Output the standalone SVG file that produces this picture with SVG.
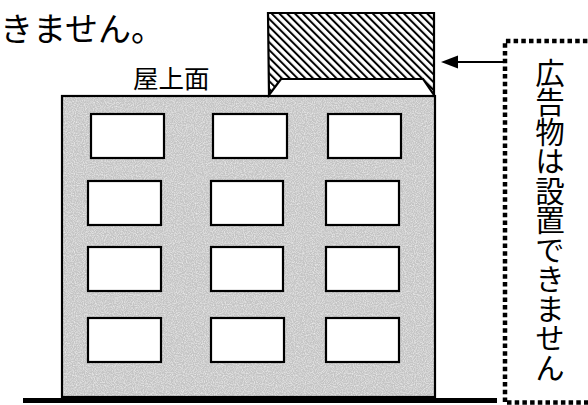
<svg xmlns="http://www.w3.org/2000/svg" width="588" height="405" viewBox="0 0 588 405">
  <defs>
    <pattern id="hatch" patternUnits="userSpaceOnUse" width="5.5" height="5.5" patternTransform="rotate(-45)">
      <rect width="5.5" height="5.5" fill="#ffffff"/>
      <rect x="0" y="0" width="2" height="5.5" fill="#000000"/>
    </pattern>
    <filter id="grain" x="0" y="0" width="100%" height="100%">
      <feTurbulence type="fractalNoise" baseFrequency="0.9" numOctaves="2" seed="3" result="n"/>
      <feColorMatrix in="n" type="matrix" values="0 0 0 0 1  0 0 0 0 1  0 0 0 0 1  0 0 0 1.2 -0.45" result="w"/>
      <feComposite in="w" in2="SourceGraphic" operator="in" result="wm"/>
      <feMerge><feMergeNode in="SourceGraphic"/><feMergeNode in="wm"/></feMerge>
    </filter>
  </defs>
  <style>
    .jp { font-family: "Noto Sans CJK JP", "Noto Sans", sans-serif; fill: #000; }
    .win { fill: #ffffff; stroke: #000; stroke-width: 2.2; }
    .dotted { fill: none; stroke: #000; stroke-width: 4.5; stroke-dasharray: 4.5 3.2; }
  </style>

  <rect width="588" height="405" fill="#ffffff"/>

  <!-- tail of the heading sentence -->
  <g id="heading">
    <text class="jp" x="0" y="41" font-size="33">きません。</text>
  </g>

  <!-- roof label -->
  <g id="roof-label">
    <text class="jp" x="133" y="88" font-size="25.5">屋上面</text>
  </g>

  <!-- building with windows -->
  <g id="building">
    <rect x="62" y="96" width="373" height="301" fill="#c4c4c4" filter="url(#grain)"/>
    <rect x="62" y="96" width="373" height="301" fill="none" stroke="#000" stroke-width="2.2"/>
    <rect class="win" x="91" y="114" width="73" height="44"/>
    <rect class="win" x="213" y="114" width="74" height="44"/>
    <rect class="win" x="328" y="114" width="73" height="44"/>
    <rect class="win" x="88" y="181" width="73" height="44"/>
    <rect class="win" x="211" y="181" width="72" height="44"/>
    <rect class="win" x="326" y="181" width="73" height="44"/>
    <rect class="win" x="88" y="247" width="73" height="44"/>
    <rect class="win" x="211" y="247" width="72" height="44"/>
    <rect class="win" x="326" y="247" width="73" height="44"/>
    <rect class="win" x="88" y="318" width="73" height="44"/>
    <rect class="win" x="211" y="318" width="73" height="44"/>
    <rect class="win" x="326" y="318" width="73" height="44"/>
  </g>

  <!-- ground line -->
  <g id="ground">
    <line x1="23" y1="400.5" x2="497" y2="400.5" stroke="#000" stroke-width="5"/>
  </g>

  <!-- rooftop sign -->
  <g id="sign">
    <path d="M268,13 H434 V95 L423,79 H281 L269,95 Z" fill="url(#hatch)" stroke="#000" stroke-width="2.2" stroke-linejoin="miter"/>
  </g>

  <!-- callout box -->
  <g id="callout">
    <path class="dotted" d="M505,402 V41 H600"/>
    <path class="dotted" d="M507,402.5 H600"/>
    <text class="jp" x="550" y="58" font-size="29.5" style="writing-mode: vertical-rl;">広告物は設置できません</text>
  </g>

  <!-- connectors -->
  <g id="connectors">
    <line x1="504" y1="62" x2="455" y2="62" stroke="#000" stroke-width="2"/>
    <polygon points="441,62 458,55.5 458,68.5" fill="#000"/>
  </g>
</svg>
